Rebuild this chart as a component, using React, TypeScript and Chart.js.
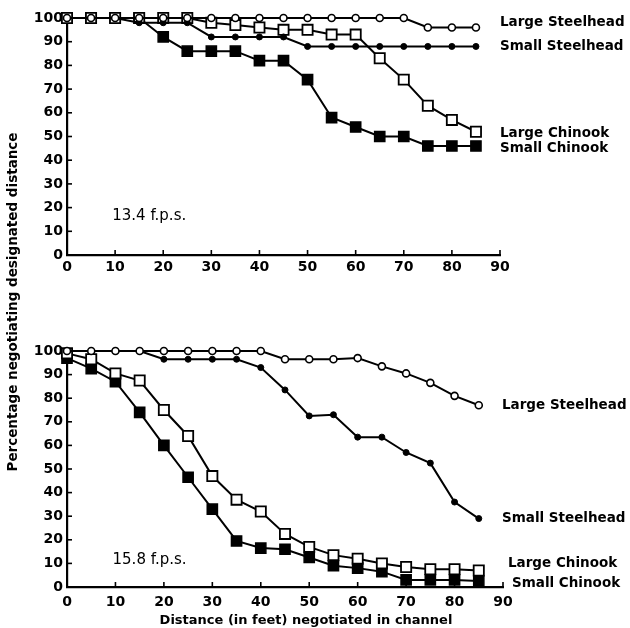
import React, { useEffect, useRef } from "react";
import { Chart, registerables } from "chart.js";

Chart.register(...registerables);

// ---------- data ----------
const distances = [0, 5, 10, 15, 20, 25, 30, 35, 40, 45, 50, 55, 60, 65, 70, 75, 80, 85];
const xTickLabels = ["0", "10", "20", "30", "40", "50", "60", "70", "80", "90"];
const yTickLabels = ["0", "10", "20", "30", "40", "50", "60", "70", "80", "90", "100"];

const seriesNames = ["Large Steelhead", "Small Steelhead", "Large Chinook", "Small Chinook"];

// 13.4 f.p.s.
const topLargeSteelhead = [100, 100, 100, 100, 100, 100, 100, 100, 100, 100, 100, 100, 100, 100, 100, 96, 96, 96];
const topSmallSteelhead = [100, 100, 100, 98, 98, 98, 92, 92, 92, 92, 88, 88, 88, 88, 88, 88, 88, 88];
const topLargeChinook = [100, 100, 100, 100, 100, 100, 98, 97, 96, 95, 95, 93, 93, 83, 74, 63, 57, 52];
const topSmallChinook = [100, 100, 100, 100, 92, 86, 86, 86, 82, 82, 74, 58, 54, 50, 50, 46, 46, 46];

// 15.8 f.p.s.
const botLargeSteelhead = [100, 100, 100, 100, 100, 100, 100, 100, 100, 96.5, 96.5, 96.5, 97, 93.5, 90.5, 86.5, 81, 77];
const botSmallSteelhead = [100, 100, 100, 100, 96.5, 96.5, 96.5, 96.5, 93, 83.5, 72.5, 73, 63.5, 63.5, 57, 52.5, 36, 29];
const botLargeChinook = [99, 96.5, 90.5, 87.5, 75, 64, 47, 37, 32, 22.5, 17, 13.5, 12, 10, 8.5, 7.5, 7.5, 7];
const botSmallChinook = [97, 92.5, 87, 74, 60, 46.5, 33, 19.5, 16.5, 16, 12.5, 9, 8, 6.5, 3, 3, 3, 2.5];

const topSpeed = "13.4 f.p.s.";
const botSpeed = "15.8 f.p.s.";
const xTitle = "Distance (in feet) negotiated in channel";
const yTitle = "Percentage negotiating designated distance";

// ---------- styling / layout ----------
const FONT = "DejaVu Sans";

type Panel = {
  series: number[][];
  speed: string;
  speedAt: [number, number];
  labelDx: number[];
  labelDy: number[];
  padding: { left: number; right: number; top: number; bottom: number };
  xLabelPad: number;
  drawYTitle: boolean;
};

const pointStyles = [
  { pointStyle: "circle", pointRadius: 3.5, pointBackgroundColor: "#fff", pointBorderWidth: 1.6 },
  { pointStyle: "circle", pointRadius: 3, pointBackgroundColor: "#000", pointBorderWidth: 1 },
  { pointStyle: "rect", pointRadius: 7.2, pointBackgroundColor: "#fff", pointBorderWidth: 1.8 },
  { pointStyle: "rect", pointRadius: 7.2, pointBackgroundColor: "#000", pointBorderWidth: 1.5 },
];

const inwardTicks = {
  id: "inwardTicks",
  beforeDatasetsDraw(chart: any) {
    const { ctx, chartArea, scales } = chart;
    ctx.save();
    ctx.strokeStyle = "#000";
    ctx.lineWidth = 1.6;
    scales.x.ticks.forEach((t: any) => {
      const px = scales.x.getPixelForValue(t.value);
      ctx.beginPath();
      ctx.moveTo(px, chartArea.bottom);
      ctx.lineTo(px, chartArea.bottom - 5);
      ctx.stroke();
    });
    scales.y.ticks.forEach((t: any) => {
      const py = scales.y.getPixelForValue(t.value);
      ctx.beginPath();
      ctx.moveTo(chartArea.left, py);
      ctx.lineTo(chartArea.left + 5, py);
      ctx.stroke();
    });
    ctx.restore();
  },
};

const textPlugin = {
  id: "panelText",
  afterDraw(chart: any) {
    const panel: Panel = chart.options.plugins.panelText.panel;
    const { ctx, scales } = chart;
    ctx.save();
    ctx.fillStyle = "#000";
    ctx.textBaseline = "middle";
    ctx.textAlign = "left";
    // series labels at the end of each line
    ctx.font = `bold 13.5px ${FONT}`;
    panel.series.forEach((vals, i) => {
      const last = vals[vals.length - 1];
      const x = scales.x.getPixelForValue(90) + panel.labelDx[i];
      const y = scales.y.getPixelForValue(last) + panel.labelDy[i];
      ctx.fillText(seriesNames[i], x, y);
    });
    // speed annotation
    ctx.font = `15px ${FONT}`;
    ctx.fillText(
      panel.speed,
      scales.x.getPixelForValue(panel.speedAt[0]),
      scales.y.getPixelForValue(panel.speedAt[1])
    );
    if (panel.drawYTitle) {
      // shared titles drawn on the full-page canvas
      ctx.font = `bold 13px ${FONT}`;
      ctx.textAlign = "center";
      ctx.fillText(xTitle, 306, 621);
      ctx.translate(13, 302);
      ctx.rotate(-Math.PI / 2);
      ctx.font = `bold 13.5px ${FONT}`;
      ctx.fillText(yTitle, 0, 0);
    }
    ctx.restore();
  },
};

function makeConfig(panel: Panel): any {
  return {
    type: "line",
    data: {
      labels: distances,
      datasets: panel.series.map((vals, i) => ({
        label: seriesNames[i],
        data: vals.map((v, j) => ({ x: distances[j], y: v })),
        borderColor: "#000",
        borderWidth: 2,
        pointBorderColor: "#000",
        tension: 0,
        clip: false,
        ...pointStyles[i],
      })),
    },
    options: {
      responsive: false,
      animation: false,
      devicePixelRatio: 1,
      layout: { padding: panel.padding },
      plugins: {
        legend: { display: false },
        tooltip: { enabled: false },
        panelText: { panel },
      },
      scales: {
        x: {
          type: "linear",
          min: 0,
          max: 90,
          grid: { display: false, drawTicks: false },
          border: { display: true, color: "#000", width: 2.2 },
          afterFit: (s: any) => {
            s.height = 25;
          },
          ticks: {
            stepSize: 10,
            padding: panel.xLabelPad,
            color: "#000",
            font: { family: FONT, size: 14, weight: "bold" },
            callback: (v: number) => xTickLabels[Math.round(v / 10)] ?? "",
            maxRotation: 0,
          },
        },
        y: {
          type: "linear",
          min: 0,
          max: 100,
          grid: { display: false, drawTicks: false },
          border: { display: true, color: "#000", width: 2.2 },
          afterFit: (s: any) => {
            s.width = 60;
          },
          ticks: {
            stepSize: 10,
            padding: 4,
            color: "#000",
            font: { family: FONT, size: 14, weight: "bold" },
            callback: (v: number) => yTickLabels[Math.round(v / 10)] ?? "",
          },
        },
      },
    },
    plugins: [inwardTicks, textPlugin],
  };
}

const topPanel: Panel = {
  series: [topLargeSteelhead, topSmallSteelhead, topLargeChinook, topSmallChinook],
  speed: topSpeed,
  speedAt: [9.4, 16.5],
  labelDx: [0, 0, 0, 0],
  labelDy: [-5, 0, 2, 3],
  padding: { left: 7, right: 130, top: 18, bottom: 20 },
  xLabelPad: 4,
  drawYTitle: false,
};

const bottomPanel: Panel = {
  series: [botLargeSteelhead, botSmallSteelhead, botLargeChinook, botSmallChinook],
  speed: botSpeed,
  speedAt: [9.4, 11.4],
  labelDx: [-1, -1, 5, 9],
  labelDy: [0, 0, -7, 2],
  padding: { left: 7, right: 127, top: 351, bottom: 16 },
  xLabelPad: 7,
  drawYTitle: true,
};

function PanelCanvas({ panel, height }: { panel: Panel; height: number }) {
  const ref = useRef<HTMLCanvasElement | null>(null);
  useEffect(() => {
    if (!ref.current) return;
    const chart = new Chart(ref.current, makeConfig(panel));
    return () => chart.destroy();
  }, [panel]);
  return (
    <canvas
      ref={ref}
      width={630}
      height={height}
      style={{ position: "absolute", left: 0, top: 0, width: 630, height, display: "block" }}
    />
  );
}

export default function App() {
  return (
    <div
      style={{
        position: "absolute",
        left: 0,
        top: 0,
        width: 630,
        height: 628,
        background: "#fff",
        overflow: "hidden",
      }}
    >
      <PanelCanvas panel={bottomPanel} height={628} />
      <PanelCanvas panel={topPanel} height={300} />
    </div>
  );
}
